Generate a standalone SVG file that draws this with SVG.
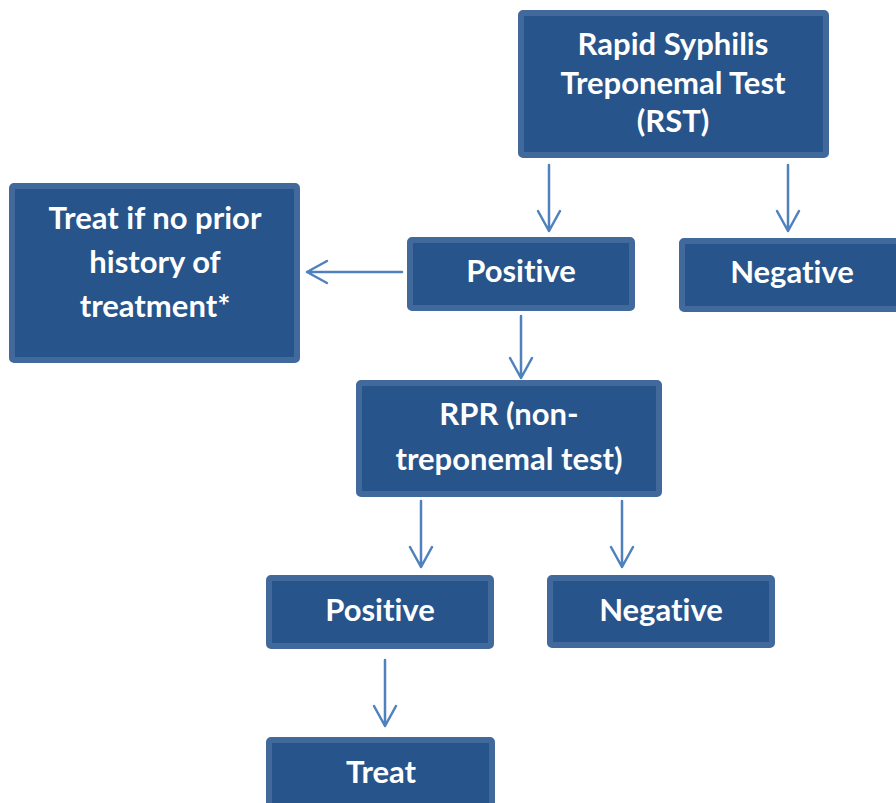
<svg xmlns="http://www.w3.org/2000/svg" width="896" height="803" viewBox="0 0 896 803">
<defs>
<style>
.box{fill:#27548a;stroke:#42699b;stroke-width:6}
.t{fill:#ffffff;font-family:Lato,"Open Sans","Liberation Sans",sans-serif;font-weight:bold;font-size:31px;text-anchor:middle;font-variant-ligatures:none;font-feature-settings:"liga" 0}
.c{stroke:#4f81bd;stroke-width:2.5;fill:none;stroke-linecap:round;stroke-linejoin:round}
</style>
</defs>
<rect width="896" height="803" fill="#ffffff"/>
<g id="rst">
<rect class="box" x="521" y="13" width="305" height="142" rx="2"/>
<text class="t" x="673" y="55">Rapid Syphilis</text>
<text class="t" x="673" y="94">Treponemal Test</text>
<text class="t" x="673" y="132">(RST)</text>
</g>
<g id="treatif">
<rect class="box" x="12" y="186" width="285" height="174" rx="2"/>
<text class="t" x="155" y="229">Treat if no prior</text>
<text class="t" x="155" y="273">history of</text>
<text class="t" x="155" y="317">treatment*</text>
</g>
<g id="pos1">
<rect class="box" x="410" y="240" width="222" height="68" rx="2"/>
<text class="t" x="521" y="282">Positive</text>
</g>
<g id="neg1">
<rect class="box" x="682" y="241" width="220" height="68" rx="2"/>
<text class="t" x="792" y="283">Negative</text>
</g>
<g id="rpr">
<rect class="box" x="359" y="383" width="300" height="111" rx="2"/>
<text class="t" x="509" y="425">RPR (non-</text>
<text class="t" x="509" y="470">treponemal test)</text>
</g>
<g id="pos2">
<rect class="box" x="269" y="578" width="222" height="68" rx="2"/>
<text class="t" x="380" y="621">Positive</text>
</g>
<g id="neg2">
<rect class="box" x="550" y="578" width="222" height="67" rx="2"/>
<text class="t" x="661" y="621">Negative</text>
</g>
<g id="treat">
<rect class="box" x="269" y="740" width="223" height="80" rx="2"/>
<text class="t" x="381" y="783">Treat</text>
</g>
<g id="connectors">
<path class="c" d="M549 165V231M538 211L549 231L560 211"/>
<path class="c" d="M788 165V231M777 211L788 231L799 211"/>
<path class="c" d="M402 272H307M327 261L307 272L327 283"/>
<path class="c" d="M521 316V378M510 358L521 378L532 358"/>
<path class="c" d="M421 501V567M410 547L421 567L432 547"/>
<path class="c" d="M622 501V567M611 547L622 567L633 547"/>
<path class="c" d="M385 660V726M374 706L385 726L396 706"/>
</g>
</svg>
